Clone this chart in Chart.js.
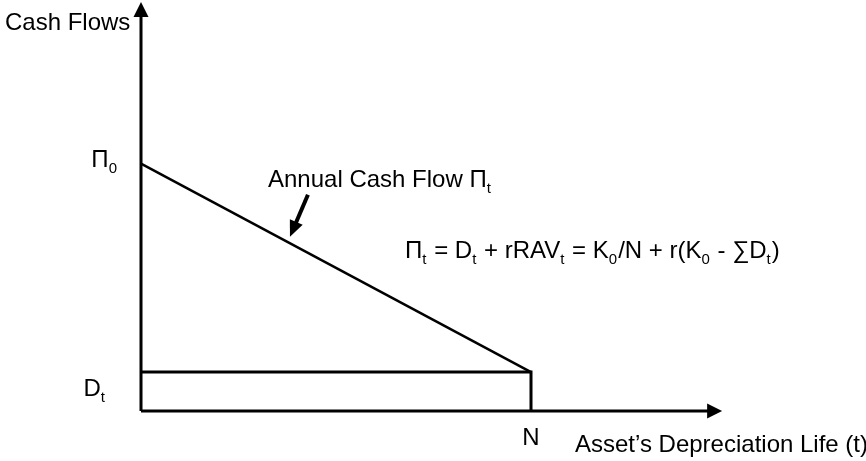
<!DOCTYPE html>
<html>
<head>
<meta charset="utf-8">
<script src="https://cdn.jsdelivr.net/npm/chart.js@4.4.1/dist/chart.umd.min.js"></script>
<style>
  html, body { margin: 0; padding: 0; background: #fff; }
  #wrap { width: 866px; height: 461px; }
</style>
</head>
<body>
<div id="wrap"><canvas id="c"></canvas></div>
<script>
// values (in chart units: time on x, cash flow on y)
const depLifeN = 10;
const cashFlowX = [0, depLifeN];
const cashFlowY = [12.7, 2];
const deprX = [0, depLifeN, depLifeN];
const deprY = [2, 2, 0];
const xAxisEnd = 14.9;
const yAxisEnd = 21;
// pointer arrow for the "Annual Cash Flow" note: [from, to]
const noteArrowX = [4.28, 3.82];
const noteArrowY = [11.1, 8.95];

// text pieces: [text, isSubscript]
const yTickValues = [12.7, 2];
const yTickLabels = [[['Π', 0], ['0', 1]], [['D', 0], ['t', 1]]];
const xTickLabel = 'N';
const yTitle = 'Cash Flows';
const xTitle = 'Asset\u2019s Depreciation Life (t)';
const noteLabel = [['Annual Cash Flow Π', 0], ['t', 1]];
const formula = [
  ['Π', 0], ['t', 1], [' = D', 0], ['t', 1], [' + rRAV', 0], ['t', 1],
  [' = K', 0], ['0', 1], ['/N + r(K', 0], ['0', 1], [' - \u2211D', 0], ['t', 1], [')', 0]
];

const FONT = '"Liberation Sans", Arial, sans-serif';
const MAIN = '24px ' + FONT;
const SUB = '15px ' + FONT;
const toPts = (xs, ys) => xs.map((x, i) => ({ x: x, y: ys[i] }));

function richWidth(ctx, parts) {
  let w = 0;
  parts.forEach(p => {
    ctx.font = p[1] ? SUB : MAIN;
    w += ctx.measureText(p[0]).width + (p[1] ? 1 : 0);
  });
  return w;
}

function drawRich(ctx, parts, x, y, align) {
  if (align === 'right') x -= richWidth(ctx, parts);
  if (align === 'center') x -= richWidth(ctx, parts) / 2;
  parts.forEach(p => {
    ctx.font = p[1] ? SUB : MAIN;
    ctx.fillText(p[0], x, p[1] ? y + 6 : y);
    x += ctx.measureText(p[0]).width + (p[1] ? 1 : 0);
  });
}

function arrowHead(ctx, x1, y1, x2, y2, len, half) {
  const a = Math.atan2(y2 - y1, x2 - x1);
  ctx.beginPath();
  ctx.moveTo(x2, y2);
  ctx.lineTo(x2 - len * Math.cos(a) + half * Math.sin(a), y2 - len * Math.sin(a) - half * Math.cos(a));
  ctx.lineTo(x2 - len * Math.cos(a) - half * Math.sin(a), y2 - len * Math.sin(a) + half * Math.cos(a));
  ctx.closePath();
  ctx.fill();
}

const decorations = {
  id: 'decorations',
  afterDatasetsDraw(chart) {
    const ctx = chart.ctx;
    const xs = chart.scales.x, ys = chart.scales.y;
    const ox = xs.getPixelForValue(0), oy = ys.getPixelForValue(0);
    ctx.save();
    ctx.fillStyle = '#000';
    ctx.strokeStyle = '#000';
    ctx.textBaseline = 'alphabetic';

    // axis arrowheads
    arrowHead(ctx, ox, oy, ox, ys.getPixelForValue(yAxisEnd), 15, 7.5);
    arrowHead(ctx, ox, oy, xs.getPixelForValue(xAxisEnd), oy, 15, 7.5);

    // note arrow
    const ax1 = xs.getPixelForValue(noteArrowX[0]), ay1 = ys.getPixelForValue(noteArrowY[0]);
    const ax2 = xs.getPixelForValue(noteArrowX[1]), ay2 = ys.getPixelForValue(noteArrowY[1]);
    const ang = Math.atan2(ay2 - ay1, ax2 - ax1);
    ctx.lineWidth = 4;
    ctx.beginPath();
    ctx.moveTo(ax1, ay1);
    ctx.lineTo(ax2 - 10 * Math.cos(ang), ay2 - 10 * Math.sin(ang));
    ctx.stroke();
    arrowHead(ctx, ax1, ay1, ax2, ay2, 16, 7);

    // tick labels
    drawRich(ctx, yTickLabels[0], ox - 23, ys.getPixelForValue(yTickValues[0]) + 3, 'right');
    drawRich(ctx, yTickLabels[1], ox - 35, ys.getPixelForValue(yTickValues[1]) + 24, 'right');
    ctx.font = MAIN;
    ctx.textAlign = 'center';
    ctx.fillText(xTickLabel, xs.getPixelForValue(depLifeN), oy + 34);
    ctx.textAlign = 'left';

    // titles and notes
    ctx.fillText(yTitle, 5, 30);
    ctx.fillText(xTitle, 575, 452);
    drawRich(ctx, noteLabel, 268, 187, 'left');
    drawRich(ctx, formula, 405, 258, 'left');
    ctx.restore();
  }
};

const lineStyle = { showLine: true, pointRadius: 0, borderColor: '#000', fill: false, clip: false, tension: 0 };

new Chart(document.getElementById('c'), {
  type: 'scatter',
  data: {
    datasets: [
      Object.assign({ label: 'y axis', data: toPts([0, 0], [0, yAxisEnd - 0.6]), borderWidth: 3 }, lineStyle),
      Object.assign({ label: 'x axis', data: toPts([0, xAxisEnd - 0.3], [0, 0]), borderWidth: 3 }, lineStyle),
      Object.assign({ label: 'Annual Cash Flow', data: toPts(cashFlowX, cashFlowY), borderWidth: 2.5 }, lineStyle),
      Object.assign({ label: 'Depreciation', data: toPts(deprX, deprY), borderWidth: 3 }, lineStyle)
    ]
  },
  options: {
    responsive: true,
    maintainAspectRatio: false,
    animation: false,
    events: [],
    layout: { padding: { left: 141, top: 2, right: 140, bottom: 50 } },
    plugins: { legend: { display: false }, tooltip: { enabled: false } },
    scales: {
      x: { type: 'linear', min: 0, max: 15, display: false },
      y: { type: 'linear', min: 0, max: yAxisEnd, display: false }
    }
  },
  plugins: [decorations]
});
</script>
</body>
</html>
